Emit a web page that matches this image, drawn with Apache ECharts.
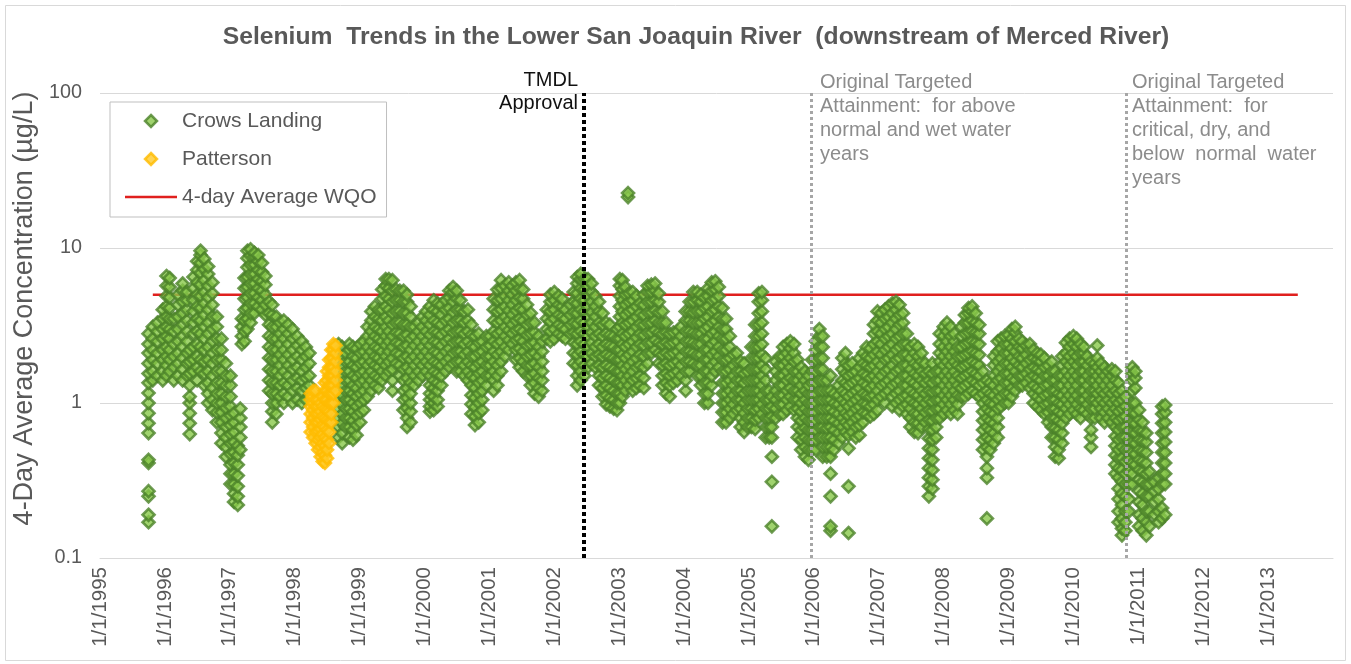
<!DOCTYPE html>
<html><head><meta charset="utf-8">
<script src="https://cdn.jsdelivr.net/npm/echarts@6/dist/echarts.min.js"></script>
<style>html,body{margin:0;padding:0;background:#fff}#chart{width:1351px;height:664px}</style>
</head><body><div id="chart"></div>
<script>
// ---------------- DATA ----------------
const titleText = 'Selenium  Trends in the Lower San Joaquin River  (downstream of Merced River)';
const yTitle = '4-Day Average Concentration (\u00b5g/L)';
const seriesNames = ['Crows Landing', 'Patterson', '4-day Average WQO'];
const xTickYears = [1995, 2014];
const yTicks = [0.1, 1, 10, 100];
const wqoValue = 5;
const wqoDates = ['1995-10-25', '2013-06-17'];
const tmdlDate = '2002-06-15';
const attainWetDate = '2005-12-17';
const attainDryDate = '2010-10-28';

const crows1995Dates = ['1995-10-01','1995-10-25','1995-11-20','1995-12-20'];
const crows1995Values = [
 [0.17,0.19,0.25,0.27,0.41,0.43,0.64,0.74,0.86,1.0,1.16,1.35,1.55,1.8,2.1,2.4,2.8],
 [1.4,1.6,1.9,2.2,2.6,3.1],
 [1.5,1.8,2.1,2.5,2.9,3.3],
 [1.4,1.6,1.9,2.2,2.6,3.0,3.5,4.0]];
const crows1996Dates = ['1996-01-10','1996-01-28','1996-02-20','1996-03-15','1996-04-10','1996-05-05','1996-05-20','1996-06-10','1996-07-01','1996-07-20','1996-08-10','1996-09-01','1996-09-25','1996-10-20','1996-11-15','1996-12-10'];
const crows1996Values = [
 [1.5,1.75,2.0,2.3,2.7,3.1,3.6,4.2,4.9,5.7,6.6],
 [1.6,1.9,2.2,2.6,3.0,3.5,4.1,4.8,5.6,6.4],
 [1.4,1.7,2.0,2.4,2.9,3.5],
 [1.5,1.8,2.1,2.5,3.0,3.6,4.3,5.0],
 [1.4,1.65,1.95,2.3,2.7,3.2,3.8,4.5,5.3,5.9],
 [1.5,1.8,2.1,2.5,2.9,3.4,4.0,4.6,5.2],
 [0.63,0.74,0.86,1.0,1.1,1.3,1.55,1.85,2.2],
 [1.6,1.9,2.3,2.8,3.3,3.9,4.6,5.5,6.5],
 [1.4,1.7,2.0,2.4,2.9,3.5,4.2,5.0,6.0,7.2,8.2],
 [1.6,1.9,2.3,2.8,3.4,4.1,4.9,5.8,6.9,8.0,9.0,9.6],
 [1.3,1.55,1.85,2.2,2.6,3.1,3.7,4.4,5.2,6.2,7.3,8.5],
 [1.0,1.15,1.35,1.6,1.9,2.3,2.8,3.3,4.0,4.8,5.7,6.8,7.6],
 [0.9,1.05,1.25,1.5,1.8,2.1,2.5,3.0,3.6,4.3,5.1,6.0],
 [0.75,0.87,1.0,1.15,1.35,1.6,1.9,2.2,2.6,3.1,3.6],
 [0.55,0.64,0.75,0.87,1.0,1.15,1.35,1.6,1.9,2.2,2.6],
 [0.45,0.52,0.6,0.7,0.8,0.93,1.1,1.3,1.5,1.8]];
const crows1997Dates = ['1997-01-05','1997-01-25','1997-02-15','1997-03-01','1997-03-10','1997-03-25','1997-04-10','1997-04-28','1997-05-20','1997-06-10','1997-07-01','1997-07-20','1997-08-10','1997-08-28','1997-09-20','1997-10-10','1997-11-01','1997-11-25','1997-12-20'];
const crows1997Values = [
 [0.3,0.35,0.4,0.47,0.55,0.63,0.72,0.83,0.95,1.1,1.3,1.5],
 [0.23,0.26,0.3,0.35,0.41,0.48,0.56,0.65,0.75,0.86],
 [0.22,0.25,0.29,0.34,0.4,0.46,0.53],
 [0.5,0.6,0.7,0.8,0.92],
 [2.4,2.7,3.1,3.5],
 [2.5,2.9,3.4,4.0,4.7,5.5,6.4],
 [3.0,3.5,4.1,4.8,5.6,6.5,7.5,8.6,9.6],
 [3.3,3.8,4.4,5.1,5.9,6.8,7.8,8.9,9.8],
 [3.8,4.4,5.1,5.9,6.8,7.8,8.8,9.3],
 [4.2,4.8,5.5,6.3,7.2,8.2,9.0],
 [4.0,4.6,5.3,6.1,7.0,8.0],
 [3.7,4.3,5.0,5.8,6.6],
 [1.2,1.4,1.65,1.95,2.3,2.7,3.2,3.8,4.5],
 [0.75,0.88,1.0,1.15,1.35,1.6,1.9,2.2,2.6,3.1,3.7,4.3],
 [0.85,1.0,1.15,1.35,1.6,1.9,2.2,2.6,3.1,3.6],
 [1.1,1.3,1.5,1.75,2.05,2.4,2.8,3.3],
 [1.0,1.15,1.35,1.6,1.9,2.2,2.6,3.0,3.4],
 [1.1,1.3,1.5,1.75,2.05,2.4,2.8,3.2],
 [1.0,1.2,1.4,1.65,1.9,2.2,2.6,3.0]];
const crows1998Dates = ['1998-01-15','1998-02-10','1998-03-05','1998-03-25','1998-09-05','1998-09-25','1998-10-15','1998-11-05','1998-11-25','1998-12-15'];
const crows1998Values = [
 [1.05,1.25,1.45,1.7,2.0,2.35,2.7],
 [1.0,1.2,1.4,1.6,1.9,2.2,2.5],
 [1.05,1.25,1.45,1.7,2.0,2.3],
 [1.1,1.3,1.5,1.8,2.1],
 [0.6,0.7,0.8,0.92,1.05,1.2,1.4,1.6,1.85,2.1,2.4],
 [0.55,0.64,0.74,0.85,0.98,1.12,1.3,1.5,1.75,2.0,2.3],
 [0.7,0.8,0.92,1.05,1.2,1.4,1.6,1.85,2.1],
 [0.6,0.7,0.8,0.92,1.05,1.2,1.4,1.6,1.85,2.2,2.4],
 [0.58,0.67,0.77,0.88,1.0,1.15,1.3,1.5,1.75,2.0,2.3],
 [0.62,0.72,0.83,0.95,1.1,1.25,1.45,1.7,1.95,2.25]];
const crows1999Dates = ['1999-01-05','1999-01-25','1999-02-15','1999-03-08','1999-03-28','1999-04-18','1999-05-08','1999-05-28','1999-06-15','1999-07-05','1999-07-25','1999-08-15','1999-09-05','1999-09-25','1999-10-15','1999-11-05','1999-11-28','1999-12-20'];
const crows1999Values = [
 [0.75,0.87,1.0,1.15,1.35,1.55,1.8,2.1,2.4],
 [0.9,1.05,1.2,1.4,1.6,1.85,2.15,2.5],
 [1.1,1.3,1.5,1.75,2.0,2.3,2.7,3.1],
 [1.2,1.4,1.6,1.85,2.15,2.5,2.9,3.4,3.9],
 [1.3,1.5,1.75,2.0,2.3,2.7,3.1,3.6,4.2],
 [1.25,1.45,1.7,1.95,2.25,2.6,3.0,3.5,4.0],
 [1.4,1.6,1.85,2.15,2.5,2.9,3.4,4.0,4.7,5.4],
 [1.5,1.75,2.0,2.35,2.7,3.1,3.6,4.2,4.9,5.7,6.3],
 [1.6,1.85,2.15,2.5,2.9,3.4,4.0,4.7,5.5,6.3],
 [1.2,1.4,1.65,1.95,2.3,2.7,3.2,3.8,4.5,5.3,6.2],
 [1.8,2.1,2.45,2.85,3.3,3.9,4.6,5.4],
 [1.5,1.75,2.05,2.4,2.8,3.3,3.9,4.6,5.3],
 [0.9,1.05,1.2,1.4,1.65,1.95,2.3,2.7,3.2,3.8,4.5,5.3],
 [0.7,0.8,0.93,1.08,1.25,1.45,1.7,2.0,2.35,2.75,3.2,3.8,4.5,5.0],
 [0.75,0.88,1.0,1.15,1.35,1.6,1.9,2.2,2.6,3.1,3.6,4.2],
 [1.3,1.5,1.75,2.0,2.35,2.7,3.1],
 [1.4,1.6,1.85,2.15,2.5,2.9,3.3],
 [1.5,1.75,2.0,2.3,2.7,3.1,3.6]];
const crows2000Dates = ['2000-01-10','2000-02-01','2000-02-22','2000-03-15','2000-04-05','2000-04-28','2000-05-20','2000-06-10','2000-07-01','2000-07-22','2000-08-12','2000-09-02','2000-09-22','2000-10-12','2000-11-02','2000-11-22','2000-12-15'];
const crows2000Values = [
 [1.6,1.85,2.15,2.5,2.9,3.4,3.9],
 [0.88,0.95,1.05,1.15,1.3,1.5,1.75,2.0,2.35,2.75,3.2,3.7,4.2],
 [0.9,1.0,1.1,1.25,1.4,1.6,1.85,2.15,2.5,2.9,3.4,4.0,4.6],
 [0.95,1.05,1.2,1.35,1.55,1.8,2.1,2.45,2.85,3.3,3.9,4.4],
 [1.3,1.5,1.75,2.0,2.35,2.75,3.2,3.7,4.3],
 [1.6,1.85,2.15,2.5,2.9,3.4,4.0,4.6],
 [1.7,1.95,2.25,2.6,3.0,3.5,4.1,4.8,5.3],
 [1.8,2.1,2.45,2.85,3.3,3.85,4.5,5.2,5.6],
 [1.6,1.85,2.15,2.5,2.9,3.4,4.0,4.7,5.3],
 [1.6,1.85,2.15,2.5,2.9,3.4,4.0,4.6],
 [1.5,1.75,2.05,2.4,2.8,3.3,3.9],
 [1.4,1.6,1.85,2.15,2.5,2.9,3.4,4.0],
 [0.85,0.98,1.12,1.3,1.5,1.75,2.0,2.35,2.75,3.2],
 [0.72,0.82,0.94,1.08,1.25,1.45,1.7,2.0,2.3,2.7],
 [0.75,0.86,1.0,1.15,1.35,1.55,1.8,2.1,2.45,2.8],
 [0.9,1.05,1.2,1.4,1.6,1.85,2.15,2.5],
 [1.3,1.5,1.75,2.0,2.3,2.7]];
const crows2001Dates = ['2001-01-05','2001-01-25','2001-02-15','2001-03-08','2001-03-30','2001-04-20','2001-05-10','2001-05-30','2001-06-20','2001-07-10','2001-08-01','2001-08-22','2001-09-12','2001-10-05','2001-10-25','2001-11-20','2001-12-10'];
const crows2001Values = [
 [1.5,1.75,2.0,2.35,2.7],
 [1.2,1.4,1.6,1.85,2.15,2.5,2.9,3.4,4.0,4.7],
 [1.3,1.5,1.75,2.05,2.4,2.8,3.3,3.9,4.6,5.4],
 [1.6,1.85,2.15,2.5,2.9,3.4,4.0,4.7,5.5,6.2],
 [2.0,2.3,2.7,3.1,3.6,4.2,4.9,5.7],
 [2.2,2.55,2.95,3.4,3.95,4.6,5.3,6.0],
 [2.4,2.8,3.2,3.7,4.3,5.0,5.7],
 [1.9,2.2,2.55,2.95,3.4,3.95,4.6,5.3,6.0],
 [1.7,1.95,2.25,2.6,3.0,3.5,4.1,4.8,5.5,6.2],
 [1.6,1.85,2.15,2.5,2.9,3.4,4.0,4.7,5.4],
 [1.5,1.75,2.0,2.35,2.75,3.2,3.7,4.3],
 [1.3,1.5,1.75,2.05,2.4,2.8,3.3,3.8],
 [1.15,1.35,1.55,1.8,2.1,2.45,2.85,3.3],
 [1.1,1.25,1.45,1.7,2.0,2.3,2.7],
 [1.2,1.4,1.6,1.85,2.15,2.5],
 [2.6,3.0,3.5,4.0],
 [2.5,2.9,3.35,3.9,4.5,5.0]];
const crows2002Dates = ['2002-01-01','2002-01-25','2002-02-15','2002-03-05','2002-04-01','2002-04-20','2002-05-10','2002-05-30','2002-06-20','2002-07-10','2002-07-30','2002-08-20','2002-09-10','2002-09-30','2002-10-20','2002-11-10','2002-12-01','2002-12-20'];
const crows2002Values = [
 [2.6,3.0,3.5,4.0,4.6,5.2],
 [2.8,3.2,3.7,4.3,4.9],
 [2.7,3.1,3.6,4.2,4.7],
 [2.6,3.0,3.5,4.0],
 [2.8,3.2,3.7,4.3],
 [1.8,2.1,2.45,2.85,3.3,3.85,4.5,5.2],
 [1.3,1.5,1.75,2.05,2.4,2.8,3.25,3.8,4.4,5.1,5.9,6.5],
 [1.4,1.6,1.85,2.15,2.5,2.9,3.4,4.0,4.7,5.5,6.3,6.8],
 [1.5,1.75,2.05,2.4,2.8,3.3,3.9,4.6,5.4,6.3],
 [1.7,2.0,2.3,2.7,3.1,3.6,4.2,4.9,5.7,6.3],
 [1.8,2.1,2.45,2.85,3.3,3.85,4.5,5.2,5.9],
 [1.7,2.0,2.3,2.7,3.1,3.6,4.2,4.9],
 [1.3,1.5,1.75,2.05,2.4,2.8,3.3,3.9,4.5],
 [1.1,1.25,1.45,1.7,2.0,2.3,2.7,3.2,3.8],
 [0.98,1.12,1.3,1.5,1.75,2.05,2.4,2.8,3.3],
 [0.95,1.08,1.25,1.45,1.7,2.0,2.35,2.75,3.2],
 [0.92,1.05,1.2,1.4,1.65,1.95,2.3,2.7],
 [0.9,1.0,1.15,1.35,1.6,1.9,2.2,2.6,3.0]];
const crows2003Dates = ['2003-01-05','2003-01-20','2003-02-05','2003-02-20','2003-02-25','2003-03-18','2003-04-08','2003-04-28','2003-05-20','2003-06-10','2003-07-01','2003-07-22','2003-08-12','2003-09-02','2003-09-22','2003-10-12','2003-11-02','2003-11-25','2003-12-15'];
const crows2003Values = [
 [1.0,1.15,1.35,1.6,1.9,2.2,2.6,3.1,3.6,4.2,4.9,5.7,6.3],
 [1.1,1.3,1.5,1.75,2.05,2.4,2.8,3.3,3.9,4.6,5.4,6.2],
 [1.2,1.4,1.65,1.95,2.3,2.7,3.2,3.7,4.3,5.0,5.6],
 [21.3,22.6],
 [1.3,1.5,1.75,2.05,2.4,2.8,3.3,3.9,4.5,5.1],
 [1.2,1.4,1.6,1.85,2.15,2.5,2.9,3.4,4.0,4.6,5.2],
 [1.25,1.45,1.7,1.95,2.3,2.65,3.1,3.6,4.2,4.9],
 [1.3,1.5,1.75,2.05,2.4,2.8,3.25,3.8,4.4],
 [1.25,1.45,1.7,2.0,2.35,2.75,3.2,3.7,4.3,5.0],
 [1.8,2.1,2.45,2.85,3.3,3.85,4.5,5.2,5.7],
 [2.1,2.45,2.85,3.3,3.85,4.5,5.2,5.8],
 [2.2,2.55,2.95,3.4,3.95,4.6,5.3,5.9],
 [1.8,2.1,2.45,2.85,3.3,3.85,4.5,5.1],
 [1.3,1.5,1.75,2.05,2.4,2.8,3.3,3.9],
 [1.15,1.35,1.55,1.8,2.1,2.45,2.85,3.3],
 [1.1,1.3,1.5,1.75,2.05,2.4,2.8],
 [1.35,1.55,1.8,2.1,2.45,2.85],
 [1.4,1.6,1.85,2.15,2.5,2.9],
 [1.5,1.75,2.0,2.3,2.7,3.1]];
const crows2004Dates = ['2004-01-10','2004-02-01','2004-02-22','2004-03-15','2004-04-05','2004-04-25','2004-05-15','2004-06-05','2004-06-25','2004-07-15','2004-08-05','2004-08-25','2004-09-15','2004-10-05','2004-10-25','2004-11-15','2004-12-05','2004-12-25'];
const crows2004Values = [
 [1.2,1.4,1.6,1.85,2.15,2.5,2.9,3.4,3.9],
 [1.6,1.85,2.15,2.5,2.9,3.4,3.9,4.5],
 [1.8,2.1,2.45,2.85,3.3,3.85,4.5,5.2],
 [1.5,1.75,2.05,2.4,2.8,3.3,3.9,4.6,5.2],
 [1.3,1.5,1.75,2.05,2.4,2.8,3.3,3.9,4.5,5.0],
 [1.0,1.15,1.35,1.6,1.9,2.2,2.6,3.0,3.5,4.1,4.8],
 [1.0,1.15,1.35,1.6,1.9,2.2,2.6,3.1,3.6,4.2,4.9,5.5],
 [1.3,1.5,1.75,2.05,2.4,2.8,3.3,3.9,4.6,5.3,6.0],
 [1.6,1.85,2.15,2.5,2.9,3.4,4.0,4.7,5.4,6.1],
 [1.7,2.0,2.3,2.7,3.1,3.6,4.2,4.9,5.6],
 [0.75,0.87,1.0,1.15,1.35,1.6,1.9,2.2,2.6,3.0,3.5,4.1],
 [0.75,0.87,1.0,1.15,1.35,1.6,1.9,2.2,2.6,3.0,3.5],
 [0.8,0.92,1.05,1.2,1.4,1.65,1.95,2.3,2.7],
 [0.85,0.98,1.12,1.3,1.5,1.75,2.05],
 [0.9,1.05,1.2,1.4,1.6,1.85,2.1],
 [0.7,0.8,0.92,1.05,1.2,1.4,1.6,1.85],
 [0.65,0.75,0.86,1.0,1.15,1.35,1.55,1.8],
 [0.7,0.8,0.92,1.05,1.2,1.4,1.6]];
const crows2005Dates = ['2005-01-15','2005-02-05','2005-02-25','2005-03-15','2005-04-05','2005-04-25','2005-05-10','2005-06-01','2005-06-22','2005-07-12','2005-08-02','2005-08-22','2005-09-12','2005-10-02','2005-10-22','2005-11-12','2005-12-02','2005-12-22'];
const crows2005Values = [
 [0.7,0.8,0.92,1.05,1.2,1.4,1.65,1.95,2.3],
 [0.68,0.78,0.9,1.05,1.2,1.4,1.65,1.95,2.3,2.7,3.2],
 [0.8,0.92,1.05,1.2,1.4,1.65,1.95,2.3,2.7,3.2,3.8,4.5,5.1],
 [0.85,0.98,1.12,1.3,1.5,1.75,2.05,2.4,2.8,3.3,3.9,4.6,5.2],
 [0.6,0.7,0.8,0.92,1.05,1.2,1.4,1.65,1.95],
 [0.6,0.7,0.8,0.92,1.05,1.2],
 [0.16,0.31,0.45,0.6,0.7,0.82,0.95,1.1],
 [0.8,0.92,1.05,1.2,1.4,1.6,1.85],
 [0.85,0.98,1.12,1.3,1.5,1.75,2.0],
 [0.85,0.98,1.12,1.3,1.5,1.75,2.0,2.3],
 [0.9,1.05,1.2,1.4,1.6,1.85,2.1,2.4],
 [0.95,1.1,1.25,1.45,1.7,1.95,2.25,2.5],
 [0.9,1.05,1.2,1.4,1.6,1.85,2.1,2.4],
 [0.6,0.7,0.8,0.92,1.05,1.2,1.4,1.6,1.9],
 [0.5,0.58,0.67,0.77,0.88,1.0,1.15,1.3,1.5,1.7],
 [0.45,0.52,0.6,0.69,0.8,0.92,1.05,1.2,1.4,1.6],
 [0.43,0.5,0.58,0.67,0.77,0.88,1.0,1.15,1.3,1.5],
 [0.5,0.58,0.67,0.77,0.88,1.0,1.15,1.35,1.6,1.9]];
const crows2006Dates = ['2006-01-12','2006-02-01','2006-02-20','2006-03-15','2006-04-05','2006-04-25','2006-05-20','2006-06-10','2006-06-28','2006-07-15','2006-08-05','2006-08-25','2006-09-15','2006-10-05','2006-10-25','2006-11-15','2006-12-05','2006-12-25'];
const crows2006Values = [
 [0.5,0.58,0.67,0.77,0.88,1.0,1.15,1.35,1.6,1.9,2.2,2.5],
 [0.6,0.7,0.8,0.92,1.05,1.2,1.4,1.65,1.95,2.3,2.7,3.0],
 [0.45,0.52,0.6,0.7,0.8,0.92,1.05,1.2,1.4,1.65,1.95,2.3,2.7],
 [0.45,0.52,0.6,0.69,0.8,0.92,1.05,1.2,1.4],
 [0.15,0.16,0.25,0.35,0.45,0.52,0.6,0.7,0.8,0.92,1.05,1.2,1.5],
 [0.5,0.58,0.67,0.77,0.88,1.0,1.15],
 [0.55,0.64,0.74,0.85,0.98,1.12,1.3],
 [0.6,0.7,0.8,0.92,1.05,1.2,1.4,1.65,1.95],
 [0.65,0.75,0.86,1.0,1.15,1.35,1.55,1.8,2.1],
 [0.145,0.29,0.51,0.62,0.72,0.83,0.95,1.1,1.3,1.5,1.75],
 [0.65,0.75,0.86,1.0,1.15,1.35,1.55,1.8],
 [0.6,0.7,0.8,0.92,1.05,1.2,1.4,1.6],
 [0.62,0.72,0.83,0.95,1.1,1.25,1.45,1.7,1.95],
 [0.75,0.87,1.0,1.15,1.35,1.55,1.8,2.1],
 [0.85,0.98,1.12,1.3,1.5,1.75,2.0,2.3],
 [0.82,0.95,1.1,1.25,1.45,1.7,1.95,2.25],
 [0.85,0.98,1.12,1.3,1.5,1.75,2.05,2.4,2.8,3.2],
 [0.9,1.05,1.2,1.4,1.6,1.85,2.15,2.5,2.9,3.4,3.9]];
const crows2007Dates = ['2007-01-15','2007-02-05','2007-02-25','2007-03-18','2007-04-08','2007-04-28','2007-05-18','2007-06-08','2007-06-28','2007-07-20','2007-08-10','2007-08-30','2007-09-20','2007-10-10','2007-10-30','2007-11-20','2007-12-10'];
const crows2007Values = [
 [1.1,1.3,1.5,1.75,2.05,2.4,2.8,3.3,3.8],
 [1.0,1.15,1.35,1.6,1.9,2.2,2.6,3.0,3.5,4.0],
 [1.2,1.4,1.65,1.95,2.3,2.7,3.1,3.6,4.2],
 [0.95,1.1,1.3,1.5,1.75,2.05,2.4,2.8,3.3,3.8,4.4],
 [1.0,1.15,1.35,1.6,1.9,2.2,2.6,3.0,3.5,4.0,4.5],
 [0.9,1.05,1.2,1.4,1.65,1.95,2.3,2.7,3.2,3.7,4.3],
 [0.95,1.1,1.3,1.5,1.75,2.05,2.4,2.8,3.3,3.8],
 [0.85,0.98,1.12,1.3,1.5,1.75,2.05,2.4,2.8],
 [0.7,0.8,0.92,1.05,1.2,1.4,1.65,1.95,2.3],
 [0.65,0.75,0.86,1.0,1.15,1.35,1.55,1.8,2.1,2.4],
 [0.64,0.74,0.85,0.98,1.12,1.3,1.5,1.75,2.0,2.3],
 [0.7,0.8,0.92,1.05,1.2,1.4,1.6,1.85,2.1],
 [0.75,0.87,1.0,1.15,1.35,1.55,1.8],
 [0.25,0.29,0.33,0.38,0.44,0.51,0.59,0.68,0.78,0.9,1.05,1.2,1.4,1.6],
 [0.28,0.32,0.37,0.43,0.5,0.58,0.67,0.77,0.89,1.02,1.18,1.35,1.55,1.8],
 [0.6,0.7,0.8,0.92,1.05,1.2,1.4,1.6],
 [0.8,0.92,1.05,1.2,1.4,1.6,1.85,2.1,2.4,2.8]];
const crows2008Dates = ['2008-01-01','2008-01-20','2008-02-10','2008-03-01','2008-03-20','2008-04-10','2008-04-30','2008-05-20','2008-06-10','2008-06-30','2008-07-20','2008-08-10','2008-09-01','2008-09-20','2008-10-10','2008-11-01','2008-11-20','2008-12-10'];
const crows2008Values = [
 [0.85,0.98,1.12,1.3,1.5,1.75,2.0,2.3,2.7,3.1],
 [0.9,1.05,1.2,1.4,1.6,1.85,2.15,2.5,2.9,3.3],
 [0.85,0.98,1.12,1.3,1.5,1.75,2.0,2.3,2.7,3.1],
 [0.9,1.05,1.2,1.4,1.6,1.85,2.15,2.5,2.8],
 [0.85,0.98,1.12,1.3,1.5,1.75,2.0,2.3],
 [1.1,1.25,1.45,1.7,2.0,2.3,2.7,3.1],
 [1.1,1.3,1.5,1.75,2.05,2.4,2.8,3.3,3.7],
 [1.15,1.35,1.55,1.8,2.1,2.45,2.85,3.3,3.8,4.1],
 [1.2,1.4,1.6,1.85,2.15,2.5,2.9,3.4,3.9,4.2],
 [1.15,1.35,1.55,1.8,2.1,2.45,2.85,3.3,3.8],
 [1.1,1.3,1.5,1.75,2.05,2.4,2.8,3.2],
 [0.5,0.58,0.67,0.77,0.88,1.0,1.15,1.35,1.6],
 [0.18,0.33,0.38,0.45,0.52,0.6,0.7,0.8,0.92,1.05,1.2,1.4],
 [0.5,0.58,0.67,0.77,0.88,1.0,1.15,1.35],
 [0.55,0.64,0.74,0.85,0.98,1.12,1.3,1.5,1.75,2.0],
 [0.6,0.7,0.8,0.92,1.05,1.2,1.4,1.6,1.85,2.15,2.5],
 [0.95,1.1,1.25,1.45,1.7,1.95,2.25,2.6],
 [1.0,1.15,1.35,1.55,1.8,2.1,2.4,2.7]];
const crows2009Dates = ['2009-01-01','2009-01-20','2009-02-08','2009-03-01','2009-03-20','2009-04-10','2009-05-01','2009-05-22','2009-06-12','2009-07-02','2009-07-22','2009-08-12','2009-09-01','2009-09-20','2009-10-10','2009-10-30','2009-11-20','2009-12-10'];
const crows2009Values = [
 [1.0,1.15,1.35,1.55,1.8,2.1,2.4,2.75],
 [1.1,1.25,1.45,1.7,1.95,2.25,2.6,3.0],
 [1.2,1.4,1.6,1.85,2.15,2.5,2.85,3.1],
 [1.3,1.5,1.75,2.0,2.3,2.6],
 [1.3,1.5,1.7,1.95,2.25,2.5],
 [1.35,1.55,1.8,2.05,2.35],
 [1.25,1.45,1.65,1.9,2.2,2.4],
 [1.0,1.15,1.3,1.5,1.7,1.95,2.2],
 [0.95,1.1,1.25,1.45,1.65,1.9,2.1],
 [0.9,1.05,1.2,1.4,1.6,1.85,2.05],
 [0.85,0.98,1.12,1.3,1.5,1.7,1.95],
 [0.75,0.87,1.0,1.15,1.32,1.5,1.75],
 [0.6,0.7,0.8,0.92,1.05,1.2,1.4,1.6,1.85],
 [0.45,0.52,0.6,0.69,0.8,0.92,1.05,1.2,1.4,1.6],
 [0.44,0.5,0.58,0.67,0.77,0.88,1.0,1.15,1.3,1.5],
 [0.55,0.64,0.74,0.85,0.98,1.12,1.3,1.5,1.75,2.0],
 [0.8,0.92,1.05,1.2,1.4,1.6,1.85,2.1,2.45],
 [0.85,0.98,1.12,1.3,1.5,1.75,2.0,2.3,2.6]];
const crows2010Dates = ['2010-01-01','2010-01-20','2010-02-10','2010-03-01','2010-03-20','2010-04-10','2010-05-01','2010-05-15','2010-06-05','2010-06-25','2010-07-15','2010-08-05','2010-08-25','2010-09-12','2010-10-01','2010-10-20','2010-11-10','2010-11-28','2010-12-15'];
const crows2010Values = [
 [0.9,1.05,1.2,1.4,1.6,1.85,2.1,2.4,2.7],
 [0.85,0.98,1.12,1.3,1.5,1.75,2.0,2.3,2.6],
 [0.8,0.92,1.05,1.2,1.4,1.6,1.85,2.1,2.4],
 [0.9,1.05,1.2,1.4,1.6,1.85,2.1,2.3],
 [0.85,0.98,1.12,1.3,1.5,1.75,2.0],
 [0.52,0.6,0.67,0.8,0.92,1.05,1.2,1.4,1.6,1.85],
 [0.8,0.92,1.05,1.2,1.4,1.6,1.8],
 [1.0,1.15,1.3,1.5,1.7,1.95,2.35],
 [0.8,0.92,1.05,1.2,1.4,1.6,1.8],
 [0.75,0.87,1.0,1.15,1.3,1.5,1.7],
 [0.8,0.92,1.05,1.2,1.4,1.6],
 [0.75,0.87,1.0,1.15,1.3,1.5,1.65],
 [0.35,0.4,0.46,0.53,0.61,0.7,0.8,0.92,1.05,1.2,1.4,1.6],
 [0.17,0.2,0.24,0.28,0.33,0.38,0.44,0.5,0.58,0.67,0.77,0.88,1.0,1.15,1.35],
 [0.14,0.155,0.18,0.22,0.26,0.31,0.37,0.44,0.52,0.6,0.7,0.8,0.92,1.05,1.2],
 [0.15,0.17,0.2,0.25,0.3,0.35,0.42,0.5,0.6,0.7,0.82,0.95,1.1],
 [0.2,0.24,0.3,0.36,0.43,0.5,0.58,0.67,0.77,0.9],
 [0.3,0.35,0.41,0.48,0.56,0.65,0.75,0.87,1.0,1.2,1.4,1.55,1.7],
 [0.4,0.47,0.55,0.64,0.74,0.86,1.0,1.25,1.45,1.6]];
const crows2011Dates = ['2011-01-05','2011-01-25','2011-02-15','2011-03-05','2011-04-01','2011-04-25','2011-05-15','2011-06-01'];
const crows2011Values = [
 [0.16,0.19,0.23,0.27,0.32,0.37,0.43,0.5,0.58,0.67,0.78,0.9],
 [0.15,0.18,0.22,0.26,0.31,0.36,0.42,0.49,0.57,0.66,0.75],
 [0.14,0.17,0.2,0.25,0.3,0.35,0.41,0.48,0.56,0.64],
 [0.16,0.2,0.25,0.3,0.36],
 [0.19,0.23,0.27,0.31],
 [0.17,0.2,0.24,0.28,0.33],
 [0.18,0.21,0.3,0.35,0.41,0.48,0.55,0.64,0.74,0.85,0.95],
 [0.19,0.3,0.35,0.41,0.48,0.56,0.65,0.75,0.87,0.97]];

const pattersonDates = ['1998-04-01','1998-04-15','1998-04-29','1998-05-13','1998-05-27','1998-06-08','1998-06-20','1998-07-02','1998-07-14','1998-07-26','1998-08-07','1998-08-19'];
const pattersonValues = [
 [0.65,0.75,0.85,0.95,1.05,1.15],
 [0.6,0.7,0.8,0.9,1.0,1.1,1.2],
 [0.55,0.65,0.75,0.85,0.95,1.05,1.2],
 [0.5,0.58,0.66,0.75,0.85,0.95,1.05],
 [0.45,0.52,0.6,0.68,0.78,0.88,1.0],
 [0.42,0.48,0.55,0.63,0.72,0.82,0.95,1.1],
 [0.41,0.46,0.53,0.6,0.7,0.8,0.92,1.05,1.2,1.35],
 [0.44,0.5,0.58,0.67,0.78,0.9,1.05,1.2,1.4,1.6],
 [0.55,0.65,0.76,0.88,1.0,1.15,1.3,1.5,1.7,1.9],
 [0.75,0.85,1.0,1.15,1.3,1.5,1.7,1.95,2.2],
 [1.0,1.15,1.3,1.5,1.7,1.95,2.2,2.4],
 [1.2,1.4,1.6,1.85,2.1,2.35]];

// ---------------- BUILD ----------------
function toYear(d) {
  const p = d.split('-').map(Number);
  const s = Date.UTC(p[0], 0, 1), e = Date.UTC(p[0] + 1, 0, 1);
  return p[0] + (Date.UTC(p[0], p[1] - 1, p[2]) - s) / (e - s);
}
function build(pairs) {
  const out = [];
  pairs.forEach(([dates, vals]) => dates.forEach((d, i) => vals[i].forEach(v => out.push([toYear(d), v]))));
  return out;
}
const crowsData = build([
  [crows1995Dates, crows1995Values], [crows1996Dates, crows1996Values], [crows1997Dates, crows1997Values],
  [crows1998Dates, crows1998Values], [crows1999Dates, crows1999Values], [crows2000Dates, crows2000Values],
  [crows2001Dates, crows2001Values], [crows2002Dates, crows2002Values], [crows2003Dates, crows2003Values],
  [crows2004Dates, crows2004Values], [crows2005Dates, crows2005Values], [crows2006Dates, crows2006Values],
  [crows2007Dates, crows2007Values], [crows2008Dates, crows2008Values], [crows2009Dates, crows2009Values],
  [crows2010Dates, crows2010Values], [crows2011Dates, crows2011Values]]);
const pattersonData = build([[pattersonDates, pattersonValues]]);
const wqoData = wqoDates.map(d => [toYear(d), wqoValue]);

const FONT = '"Liberation Sans", Arial, sans-serif';
const GREEN_FILL = '#88c84a', GREEN_EDGE = '#4b8229';
const YELLOW_FILL = '#ffc928', YELLOW_EDGE = '#ffbb00';
const RED = '#e0201e';
const DIAMOND = 'path://M6,0 L12,6 L6,12 L0,6 Z';
const chart = echarts.init(document.getElementById('chart'), null, {renderer: 'canvas'});
chart.setOption({
  animation: false,
  backgroundColor: '#ffffff',
  title: {
    text: titleText, left: 696, top: 25, textAlign: 'center', padding: 0,
    textStyle: {fontFamily: FONT, fontSize: 24.7, fontWeight: 'bold', color: '#595959'}
  },
  grid: {left: 100, right: 18, top: 93, bottom: 106, containLabel: false},
  legend: {
    orient: 'vertical', left: 110, top: 102, padding: [7, 10, 8, 15], itemGap: 14,
    itemWidth: 52, itemHeight: 12, symbolKeepAspect: true,
    backgroundColor: '#ffffff', borderColor: '#bfbfbf', borderWidth: 1,
    textStyle: {fontFamily: FONT, fontSize: 21, color: '#595959', lineHeight: 24},
    data: [
      {name: seriesNames[0], icon: DIAMOND, itemStyle: {color: GREEN_FILL, borderColor: GREEN_EDGE, borderWidth: 2.5}},
      {name: seriesNames[1], icon: DIAMOND, itemStyle: {color: YELLOW_FILL, borderColor: YELLOW_EDGE, borderWidth: 2.5}},
      {name: seriesNames[2], icon: 'path://M0,0 L52,0 L52,2.5 L0,2.5 Z', itemStyle: {color: RED, borderWidth: 0}}
    ]
  },
  xAxis: {
    type: 'value', min: xTickYears[0], max: xTickYears[1], interval: 1,
    axisLine: {show: true, lineStyle: {color: '#d9d9d9', width: 1}},
    axisTick: {show: false}, splitLine: {show: false},
    axisLabel: {rotate: 90, margin: 9, color: '#595959', fontSize: 20.5, fontFamily: FONT,
      showMaxLabel: false, formatter: v => '1/1/' + Math.round(v)}
  },
  yAxis: {
    type: 'log', logBase: 10, min: yTicks[0], max: yTicks[yTicks.length - 1],
    name: yTitle, nameLocation: 'middle', nameGap: 53, nameRotate: 90,
    nameTextStyle: {fontFamily: FONT, fontSize: 27, color: '#595959', padding: [0, 0, 0, 34]},
    axisLine: {show: false}, axisTick: {show: false},
    splitLine: {show: true, lineStyle: {color: '#d9d9d9', width: 1}},
    axisLabel: {margin: 18, color: '#595959', fontSize: 19.8, fontFamily: FONT,
      formatter: v => String(+(+v).toPrecision(3))}
  },
  series: [
    {
      name: seriesNames[2], type: 'line', data: wqoData, symbol: 'none', z: 1,
      lineStyle: {color: RED, width: 2.5}, itemStyle: {color: RED}
    },
    {
      name: seriesNames[0], type: 'scatter', data: crowsData, symbol: 'diamond', symbolSize: 12, z: 3,
      large: false, itemStyle: {color: GREEN_FILL, borderColor: GREEN_EDGE, borderWidth: 2.6}
    },
    {
      name: seriesNames[1], type: 'scatter', data: pattersonData, symbol: 'diamond', symbolSize: 12, z: 4,
      large: false, itemStyle: {color: YELLOW_FILL, borderColor: YELLOW_EDGE, borderWidth: 2.6}
    },
    {
      name: 'markers', type: 'line', data: [], z: 10, silent: true,
      markLine: {
        silent: true, symbol: ['none', 'none'], label: {show: false}, animation: false,
        data: [
          {xAxis: toYear(tmdlDate), lineStyle: {color: '#000000', width: 4, type: [4, 3]}},
          {xAxis: toYear(attainWetDate), lineStyle: {color: '#a6a6a6', width: 3, type: [3, 3]}},
          {xAxis: toYear(attainDryDate), lineStyle: {color: '#a6a6a6', width: 3, type: [3, 3]}}
        ]
      }
    }
  ],
  graphic: [
    {type: 'rect', silent: true, z: -1, shape: {x: 5.5, y: 5.5, width: 1340, height: 655},
      style: {fill: null, stroke: '#d9d9d9', lineWidth: 1}},
    {type: 'text', x: 578, y: 69, silent: true,
      style: {text: 'TMDL\nApproval', fill: '#111111', fontSize: 20, fontFamily: FONT, lineHeight: 23,
        align: 'right', textAlign: 'right', verticalAlign: 'top', textVerticalAlign: 'top'}},
    {type: 'text', x: 820, y: 70, silent: true,
      style: {text: 'Original Targeted\nAttainment:  for above\nnormal and wet water\nyears', fill: '#8c8c8c',
        fontSize: 20, fontFamily: FONT, lineHeight: 24, align: 'left', textAlign: 'left',
        verticalAlign: 'top', textVerticalAlign: 'top'}},
    {type: 'text', x: 1132, y: 70, silent: true,
      style: {text: 'Original Targeted\nAttainment:  for\ncritical, dry, and\nbelow  normal  water\nyears', fill: '#8c8c8c',
        fontSize: 20, fontFamily: FONT, lineHeight: 24, align: 'left', textAlign: 'left',
        verticalAlign: 'top', textVerticalAlign: 'top'}}
  ]
});
</script>
</body></html>
